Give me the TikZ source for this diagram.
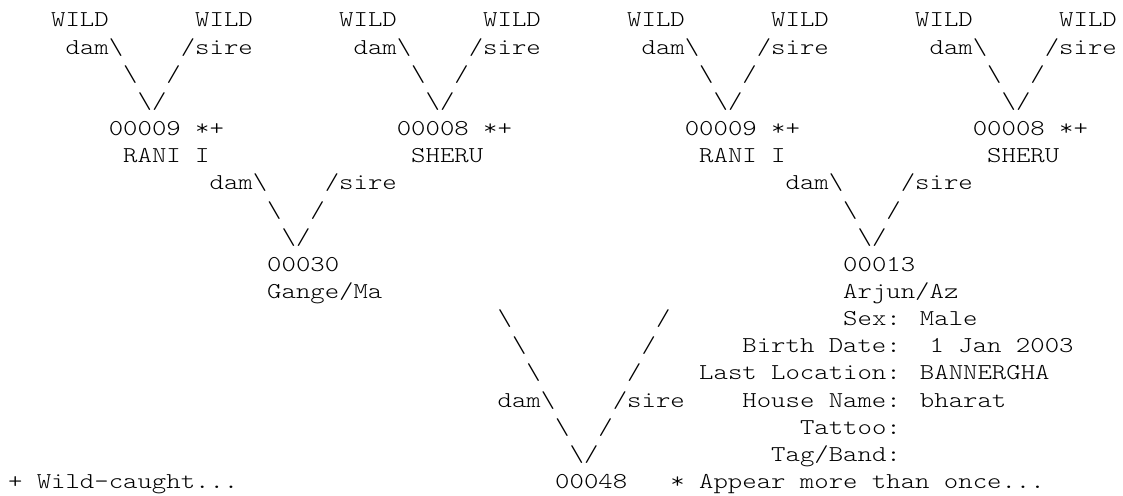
\documentclass[tikz,border=0pt]{standalone}
\usepackage{fontspec}
\newfontfamily\pedfont[FakeStretch=1.21]{lmmonolt10-regular.otf}
\newcommand{\bs}{\textbackslash}
\begin{document}
\begin{tikzpicture}[x=10.8pt, y=-20.3625pt,
    txt/.style={anchor=base west, inner sep=0pt, outer sep=0pt, font=\pedfont\fontsize{17pt}{20pt}\selectfont}]
    \useasboundingbox (-0.5556,-0.9945) rectangle (77.43,17.27);

    % wild-caught parents
    \node[txt] (w1) at (3,0) {WILD};
    \node[txt] (w2) at (13,0) {WILD};
    \node[txt] (w3) at (23,0) {WILD};
    \node[txt] (w4) at (33,0) {WILD};
    \node[txt] (w5) at (43,0) {WILD};
    \node[txt] (w6) at (53,0) {WILD};
    \node[txt] (w7) at (63,0) {WILD};
    \node[txt] (w8) at (73,0) {WILD};
    \node[txt] (da1) at (4,1) {dam\bs};
    \node[txt] (da2) at (24,1) {dam\bs};
    \node[txt] (da3) at (44,1) {dam\bs};
    \node[txt] (da4) at (64,1) {dam\bs};
    \node[txt] (si1) at (12,1) {/sire};
    \node[txt] (si2) at (32,1) {/sire};
    \node[txt] (si3) at (52,1) {/sire};
    \node[txt] (si4) at (72,1) {/sire};
    \node[txt] (l1) at (8,2) {\bs};
    \node[txt] (r1) at (11,2) {/};
    \node[txt] (l2) at (28,2) {\bs};
    \node[txt] (r2) at (31,2) {/};
    \node[txt] (l3) at (48,2) {\bs};
    \node[txt] (r3) at (51,2) {/};
    \node[txt] (l4) at (68,2) {\bs};
    \node[txt] (r4) at (71,2) {/};
    \node[txt] (v1) at (9,3) {\bs/};
    \node[txt] (v2) at (29,3) {\bs/};
    \node[txt] (v3) at (49,3) {\bs/};
    \node[txt] (v4) at (69,3) {\bs/};

    % grandparents
    \node[txt] (rani1) at (7,4) {00009 *+};
    \node[txt] (sheru1) at (27,4) {00008 *+};
    \node[txt] (rani2) at (47,4) {00009 *+};
    \node[txt] (sheru2) at (67,4) {00008 *+};
    \node[txt] (rn1) at (8,5) {RANI I};
    \node[txt] (sn1) at (28,5) {SHERU};
    \node[txt] (rn2) at (48,5) {RANI I};
    \node[txt] (sn2) at (68,5) {SHERU};
    \node[txt] (da5) at (14,6) {dam\bs};
    \node[txt] (si5) at (22,6) {/sire};
    \node[txt] (da6) at (54,6) {dam\bs};
    \node[txt] (si6) at (62,6) {/sire};
    \node[txt] (l5) at (18,7) {\bs};
    \node[txt] (r5) at (21,7) {/};
    \node[txt] (l6) at (58,7) {\bs};
    \node[txt] (r6) at (61,7) {/};
    \node[txt] (v5) at (19,8) {\bs/};
    \node[txt] (v6) at (59,8) {\bs/};

    % parents
    \node[txt] (dam) at (18,9) {00030};
    \node[txt] (sire) at (58,9) {00013};
    \node[txt] (damn) at (18,10) {Gange/Ma};
    \node[txt] (siren) at (58,10) {Arjun/Az};
    \node[txt] (l7) at (34,11) {\bs};
    \node[txt] (r7) at (45,11) {/};
    \node[txt] (l8) at (35,12) {\bs};
    \node[txt] (r8) at (44,12) {/};
    \node[txt] (l9) at (36,13) {\bs};
    \node[txt] (r9) at (43,13) {/};
    \node[txt] (da7) at (34,14) {dam\bs};
    \node[txt] (si7) at (42,14) {/sire};
    \node[txt] (l10) at (38,15) {\bs};
    \node[txt] (r10) at (41,15) {/};
    \node[txt] (v7) at (39,16) {\bs/};

    % animal details
    \node[txt] (sex) at (58,11) {Sex: Male};
    \node[txt] (birth) at (51,12) {Birth Date:};
    \node[txt] (bdate) at (64,12) {1 Jan 2003};
    \node[txt] (loc) at (48,13) {Last Location: BANNERGHA};
    \node[txt] (house) at (51,14) {House Name: bharat};
    \node[txt] (tattoo) at (55,15) {Tattoo:};
    \node[txt] (tag) at (53,16) {Tag/Band:};

    % bottom line
    \node[txt] (wildkey) at (0,17) {+ Wild-caught...};
    \node[txt] (animal) at (38,17) {00048};
    \node[txt] (oncekey) at (46,17) {* Appear more than once...};
\end{tikzpicture}
\end{document}
